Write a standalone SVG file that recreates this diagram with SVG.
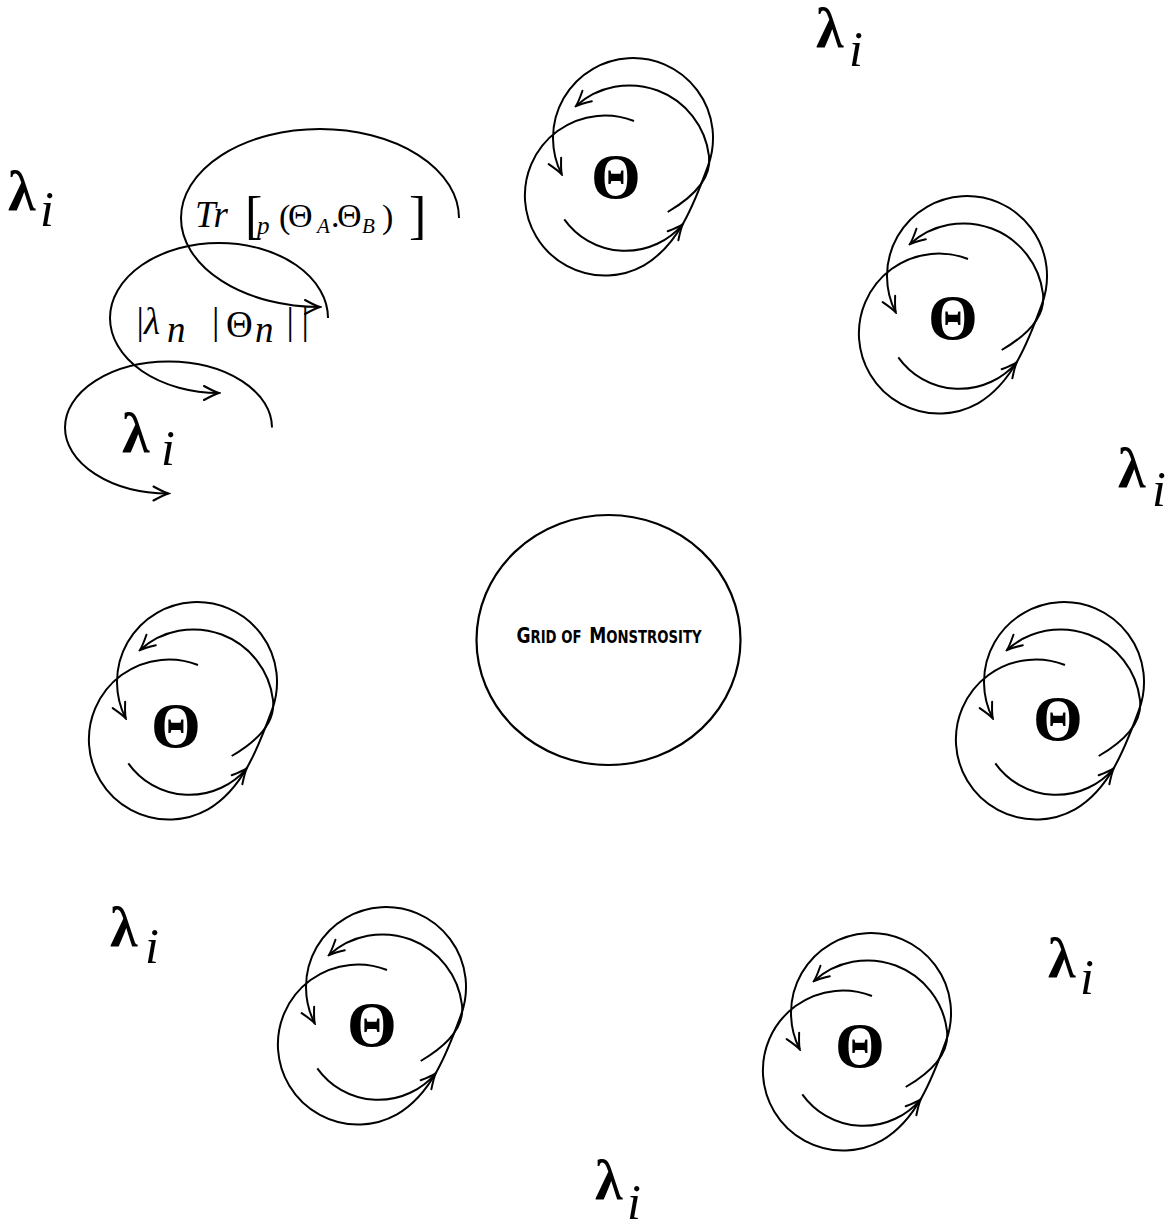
<svg xmlns="http://www.w3.org/2000/svg" xmlns:xlink="http://www.w3.org/1999/xlink" width="1174" height="1224" viewBox="0 0 1174 1224">
<style>
.ln{fill:none;stroke:#000;stroke-width:2}
.th{font-family:"Liberation Serif","Times New Roman",serif;font-weight:bold;font-size:64px;text-anchor:middle;fill:#000}
.lam{font-family:"Liberation Serif","Times New Roman",serif;font-weight:bold;font-size:56px;fill:#000}
.sub{font-family:"Liberation Serif","Times New Roman",serif;font-style:italic;font-weight:normal;font-size:50px;fill:#000}
.m{font-family:"Liberation Serif","Times New Roman",serif;fill:#000}
.it{font-style:italic}
</style>
<defs>
<marker id="arr" viewBox="-20 -10 22 20" refX="0" refY="0" markerWidth="22" markerHeight="20" markerUnits="userSpaceOnUse" orient="auto">
<path d="M -15,-7 Q -5,-1.5 0,0 Q -5,1.5 -15,7" fill="none" stroke="#000" stroke-width="2" stroke-linecap="round"/>
</marker>
<g id="loops">
<path class="ln" d="M 22,-60 A 80 80 0 1 0 32,84.3 C 66.6,64.3 82.5,22 96.2,-15.6 A 80 80 0 1 0 -50.3,-6.7" marker-end="url(#arr)"/>
<path class="ln" d="M 55.7,31 Q 100.6,4.7 97,-25 A 80 80 0 0 0 -36,-75" marker-end="url(#arr)"/>
<path class="ln" d="M -47.7,38.3 A 75 75 0 0 0 70.7,43.3" marker-end="url(#arr)"/>
</g>
</defs>
<rect width="1174" height="1224" fill="#fff"/>

<g id="connectors">
<use xlink:href="#loops" href="#loops" transform="translate(612,181)"/>
<use xlink:href="#loops" href="#loops" transform="translate(946,319)"/>
<use xlink:href="#loops" href="#loops" transform="translate(1043,725)"/>
<use xlink:href="#loops" href="#loops" transform="translate(176,725)"/>
<use xlink:href="#loops" href="#loops" transform="translate(365,1030)"/>
<use xlink:href="#loops" href="#loops" transform="translate(850,1056)"/>
<path class="ln" d="M 459,218 A 139 89 0 1 0 320,307" marker-end="url(#arr)"/>
<path class="ln" d="M 328,318 A 109 75 0 1 0 219,393" marker-end="url(#arr)"/>
<path class="ln" d="M 272,427.5 A 103.5 66 0 1 0 168.5,493.5" marker-end="url(#arr)"/>
</g>

<g id="node-top"><text class="th" x="616" y="198">Θ</text></g>
<g id="node-right-upper"><text class="th" x="953" y="339">Θ</text></g>
<g id="node-right-middle"><text class="th" x="1058" y="740">Θ</text></g>
<g id="node-left"><text class="th" x="176" y="747">Θ</text></g>
<g id="node-bottom-left"><text class="th" x="372" y="1046">Θ</text></g>
<g id="node-bottom-right"><text class="th" x="860" y="1067">Θ</text></g>

<g id="node-grid">
<ellipse cx="608.5" cy="640" rx="132" ry="125" fill="none" stroke="#000" stroke-width="2.2"/>
<text x="609" y="643" text-anchor="middle" font-family="'DejaVu Sans Condensed','DejaVu Sans',sans-serif" font-weight="bold" font-size="17" textLength="185" lengthAdjust="spacingAndGlyphs"><tspan font-size="22">G</tspan>RID OF<tspan dx="9" font-size="22">M</tspan>ONSTROSITY</text>
</g>

<g id="label-trace">
<text class="m it" x="195" y="227" font-size="37">Tr</text>
<text class="m" x="245" y="232.5" font-size="52">[</text>
<text class="m it" x="257" y="234" font-size="25">p</text>
<text class="m" x="279" y="228" font-size="34">(</text>
<text class="m" x="288" y="227" font-size="34">Θ</text>
<text class="m it" x="317" y="233" font-size="21">A</text>
<text class="m" x="331" y="227" font-size="34">.</text>
<text class="m" x="337" y="227" font-size="34">Θ</text>
<text class="m it" x="362" y="233" font-size="21">B</text>
<text class="m" x="382" y="228" font-size="34">)</text>
<text class="m" x="409" y="232.5" font-size="52">]</text>
</g>

<g id="label-ket">
<text class="m" x="136.4" y="334" font-size="37">|</text>
<text class="m it" x="144" y="334" font-size="37">λ</text>
<text class="m it" x="167" y="342" font-size="37">n</text>
<text class="m" x="212" y="334" font-size="37">|</text>
<text class="m" x="226" y="337" font-size="37">Θ</text>
<text class="m it" x="255" y="342" font-size="37">n</text>
<text class="m" x="286.4" y="334" font-size="37">|</text>
<text class="m" x="301.4" y="334" font-size="37">|</text>
</g>

<g id="lambda-labels">
<text class="lam" x="816" y="47">λ<tspan class="sub" x="849" y="66">i</tspan></text>
<text class="lam" x="8" y="210">λ<tspan class="sub" x="40" y="226">i</tspan></text>
<text class="lam" x="1118" y="487">λ<tspan class="sub" x="1152" y="506">i</tspan></text>
<text class="lam" x="595" y="1199">λ<tspan class="sub" x="627" y="1219">i</tspan></text>
<text class="lam" x="110" y="946">λ<tspan class="sub" x="145" y="963">i</tspan></text>
<text class="lam" x="1048" y="977">λ<tspan class="sub" x="1080" y="994">i</tspan></text>
<text class="lam" x="122" y="452" font-size="66">λ<tspan class="sub" x="161" y="465">i</tspan></text>
</g>
</svg>
